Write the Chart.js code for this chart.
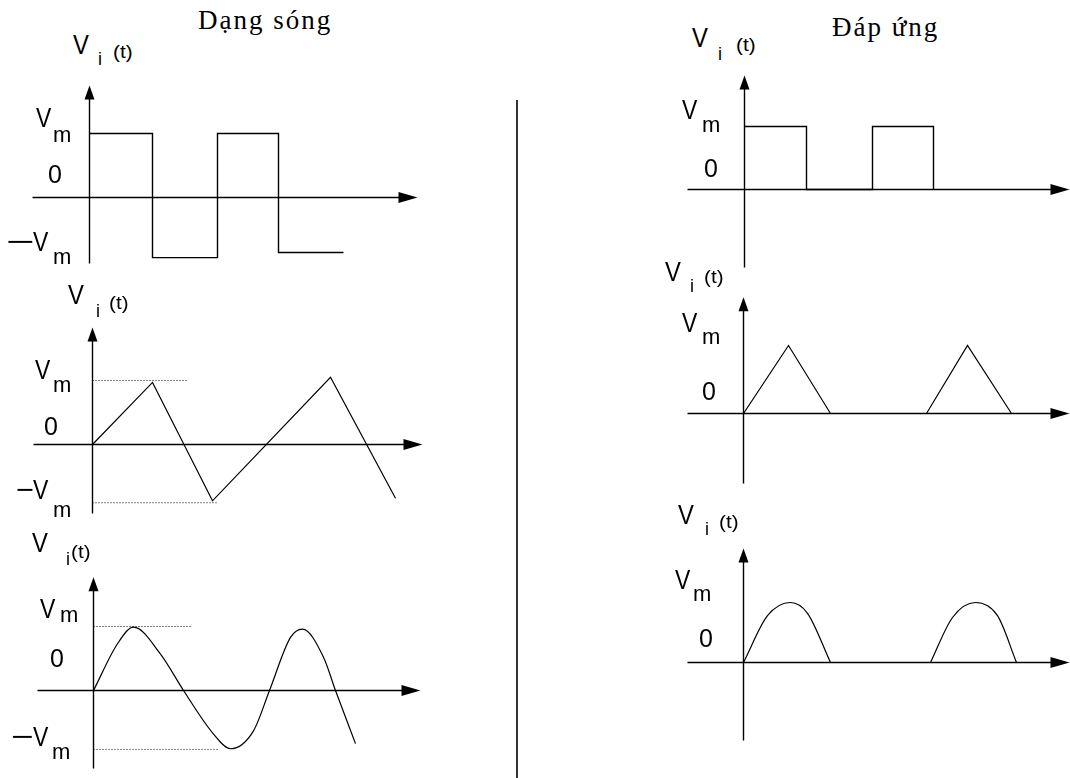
<!DOCTYPE html>
<html>
<head>
<meta charset="utf-8">
<title>Dạng sóng / Đáp ứng</title>
<script src="https://cdn.jsdelivr.net/npm/chart.js@4.4.1/dist/chart.umd.min.js"></script>
<style>
  html, body { margin: 0; padding: 0; background: #fff; }
  #page { position: relative; width: 1070px; height: 778px; overflow: hidden; background: #fff; }
  #page canvas { position: absolute; }
  .lbl { position: absolute; white-space: nowrap; color: #000; z-index: 2;
         font-family: "Liberation Sans", Arial, sans-serif; transform-origin: 0 0; }
  .ttl { font-family: "Liberation Serif", "Times New Roman", serif; letter-spacing: 2px; }
  #divider { position: absolute; left: 516px; top: 100px; width: 2px; height: 678px; background: #333; }
</style>
</head>
<body>
<div id="page"><div id="divider"></div></div>
<script>
// --- data (t in time units, v in units of Vm) ---

// input: square wave
const sqT = [0, 6.3, 12.8, 18.9, 25.4];
const sqV = [1.0, -0.94, 1.0, -0.86, -0.86];

// input: triangle wave
const triT = [0, 6.0, 12.0, 23.8, 30.3];
const triV = [0, 0.97, -0.88, 1.05, -0.84];
const triVmRef = 1.0,  triVmEnd = 9.6;
const triNegRef = -0.91, triNegEnd = 12.5;

// input: sine wave
const sinT = [0, 2.4, 4.0, 6.7, 9.0, 12.0, 13.7, 16.0, 17.6, 19.7, 20.9, 23.0, 24.2, 26.2];
const sinV = [0, 0.73, 0.99, 0.57, 0, -0.68, -0.91, -0.63, 0, 0.83, 0.96, 0.52, 0, -0.83];
const sinVmRef = 1.0,  sinVmEnd = 9.7;
const sinNegRef = -0.92, sinNegEnd = 12.5;

// response: rectified square (pulses)
const pulseT = [0, 6.2, 12.8, 18.9];
const pulseV = [1, 0, 1, 0];

// response: rectified triangle
const hTriT = [0, 4.5, 8.7, 18.3, 22.4, 26.8];
const hTriV = [0, 1, 0, 0, 1, 0];

// response: half-wave sine humps
const hump1T = [0, 2.4, 4.7, 6.4, 8.7];
const hump1V = [0, 0.78, 1, 0.82, 0];
const hump2T = [18.7, 20.9, 23.2, 25.4, 27.3];
const hump2V = [0, 0.75, 1, 0.78, 0];

const pts = (t, v) => t.map((x, i) => ({ x, y: v[i] }));

const wave = (t, v, extra) => Object.assign({ data: pts(t, v), borderColor: '#000', borderWidth: 1.4, pointRadius: 0, fill: false, tension: 0 }, extra || {});
const refLine = (v, tEnd) => ({ data: [{ x: 0, y: v }, { x: tEnd, y: v }], borderColor: '#000', borderWidth: 1, borderDash: [1, 2], pointRadius: 0, fill: false });

// draws the two axes with filled arrow heads through the origin
const arrowAxes = {
  id: 'arrowAxes',
  beforeDatasetsDraw(chart, args, opts) {
    const { ctx, scales: { x, y } } = chart;
    const ox = x.getPixelForValue(0), oy = y.getPixelForValue(0);
    const xa = x.getPixelForValue(opts.x[0]), xb = x.getPixelForValue(opts.x[1]);
    const ya = y.getPixelForValue(opts.y[0]), yb = y.getPixelForValue(opts.y[1]);
    ctx.save();
    ctx.strokeStyle = '#000';
    ctx.fillStyle = '#000';
    ctx.lineWidth = 1.4;
    ctx.beginPath();
    ctx.moveTo(xa, oy); ctx.lineTo(xb - 12, oy);
    ctx.moveTo(ox, ya); ctx.lineTo(ox, yb + 10);
    ctx.stroke();
    ctx.beginPath();
    ctx.moveTo(xb, oy); ctx.lineTo(xb - 19, oy - 5.5); ctx.lineTo(xb - 19, oy + 5.5);
    ctx.closePath(); ctx.fill();
    ctx.beginPath();
    ctx.moveTo(ox, yb); ctx.lineTo(ox - 5, yb + 14); ctx.lineTo(ox + 5, yb + 14);
    ctx.closePath(); ctx.fill();
    ctx.restore();
  }
};

const page = document.getElementById('page');

function makePanel(p) {
  const [bx, by, bw, bh] = p.box;
  const [ox, oy] = p.origin;
  const [ux, uy] = p.unit;
  const cv = document.createElement('canvas');
  cv.width = bw; cv.height = bh;
  cv.style.left = bx + 'px'; cv.style.top = by + 'px';
  cv.style.width = bw + 'px'; cv.style.height = bh + 'px';
  page.appendChild(cv);
  new Chart(cv, {
    type: 'line',
    data: { datasets: p.datasets },
    options: {
      responsive: false,
      animation: false,
      events: [],
      layout: { padding: 0 },
      plugins: { legend: { display: false }, tooltip: { enabled: false }, arrowAxes: p.axes },
      scales: {
        x: { type: 'linear', display: false, min: -(ox - bx) / ux, max: (bx + bw - ox) / ux },
        y: { type: 'linear', display: false, min: -(by + bh - oy) / uy, max: (oy - by) / uy }
      }
    },
    plugins: [arrowAxes]
  });
}

// --- the six panels ---
makePanel({ box: [25, 78, 400, 192], origin: [89.5, 197.5], unit: [10, 64],
  axes: { x: [-5.7, 32.8], y: [-1.03, 1.75] },
  datasets: [wave(sqT, sqV, { stepped: true })] });

makePanel({ box: [25, 320, 405, 200], origin: [92.5, 444.5], unit: [10, 64],
  axes: { x: [-5.9, 33.0], y: [-1.08, 1.83] },
  datasets: [refLine(triVmRef, triVmEnd), refLine(triNegRef, triNegEnd), wave(triT, triV, { borderWidth: 1.2 })] });

makePanel({ box: [30, 570, 398, 205], origin: [93.5, 690.5], unit: [10, 64],
  axes: { x: [-5.6, 32.7], y: [-1.22, 1.77] },
  datasets: [refLine(sinVmRef, sinVmEnd), refLine(sinNegRef, sinNegEnd), wave(sinT, sinV, { borderWidth: 1.2, cubicInterpolationMode: 'monotone' })] });

makePanel({ box: [680, 68, 390, 204], origin: [744.5, 189.5], unit: [10, 63],
  axes: { x: [-5.7, 32.5], y: [-1.24, 1.81] },
  datasets: [wave(pulseT, pulseV, { stepped: true })] });

makePanel({ box: [680, 290, 390, 200], origin: [743.5, 413.5], unit: [10, 68],
  axes: { x: [-5.6, 32.6], y: [-1.03, 1.71] },
  datasets: [wave(hTriT, hTriV, { borderWidth: 1.2 })] });

makePanel({ box: [680, 540, 390, 208], origin: [743.5, 662.5], unit: [10, 60],
  axes: { x: [-5.6, 32.6], y: [-1.3, 1.9] },
  datasets: [wave(hump1T, hump1V, { borderWidth: 1.2, cubicInterpolationMode: 'monotone' }),
             wave(hump2T, hump2V, { borderWidth: 1.2, cubicInterpolationMode: 'monotone' })] });

// --- text ---
function put(text, x, base, size, cls, sx) {
  const d = document.createElement('div');
  d.className = 'lbl' + (cls ? ' ' + cls : '');
  d.textContent = text;
  const k = cls === 'ttl' ? 0.8375 : 0.8465;
  d.style.fontSize = size + 'px';
  d.style.lineHeight = size + 'px';
  d.style.left = x + 'px';
  d.style.top = (base - k * size) + 'px';
  if (sx) d.style.transform = 'scaleX(' + sx + ')';
  page.appendChild(d);
}
function vi(x, base, xi, bi, xt, bt) {
  put('V', x, base, 28, '', 0.85);
  put('i', xi, bi, 18);
  const d = put('(t)', xt, bt, 18, '', 1.15);
}
function vm(x, base, xm, bm) {
  put('V', x, base, 28, '', 0.82);
  put('m', xm, bm, 22);
}
function neg(x0, x1, base) {
  const s = (x1 - x0) / 13.7;
  put('−', x0 - 1.3 * s, base, 28, '', s);
}

put('Dạng sóng', 198, 30, 27, 'ttl');
put('Đáp ứng', 832, 37, 27, 'ttl');

vi(73, 55, 98, 65, 113, 58);
vm(36, 128, 53, 143); put('0', 48, 183, 25);
neg(8, 32, 252); vm(33, 252, 53, 265);

vi(68, 305, 96, 317, 109, 309);
vm(35, 380, 53, 393); put('0', 44, 435, 25);
neg(17, 32, 500); vm(33, 500, 53, 518);

vi(32, 553, 66, 565, 71, 558);
vm(40, 619, 60, 623); put('0', 50, 667, 25);
neg(13, 32, 747); vm(33, 747, 52, 760);

vi(692, 48, 718, 60, 736, 51);
vm(682, 120, 702, 133); put('0', 704, 177, 25);

vi(665, 282, 690, 292, 704, 283);
vm(682, 333, 702, 345); put('0', 702, 400, 25);

vi(678, 525, 705, 535, 719, 528);
vm(675, 590, 693, 602); put('0', 699, 647, 25);
</script>
</body>
</html>
